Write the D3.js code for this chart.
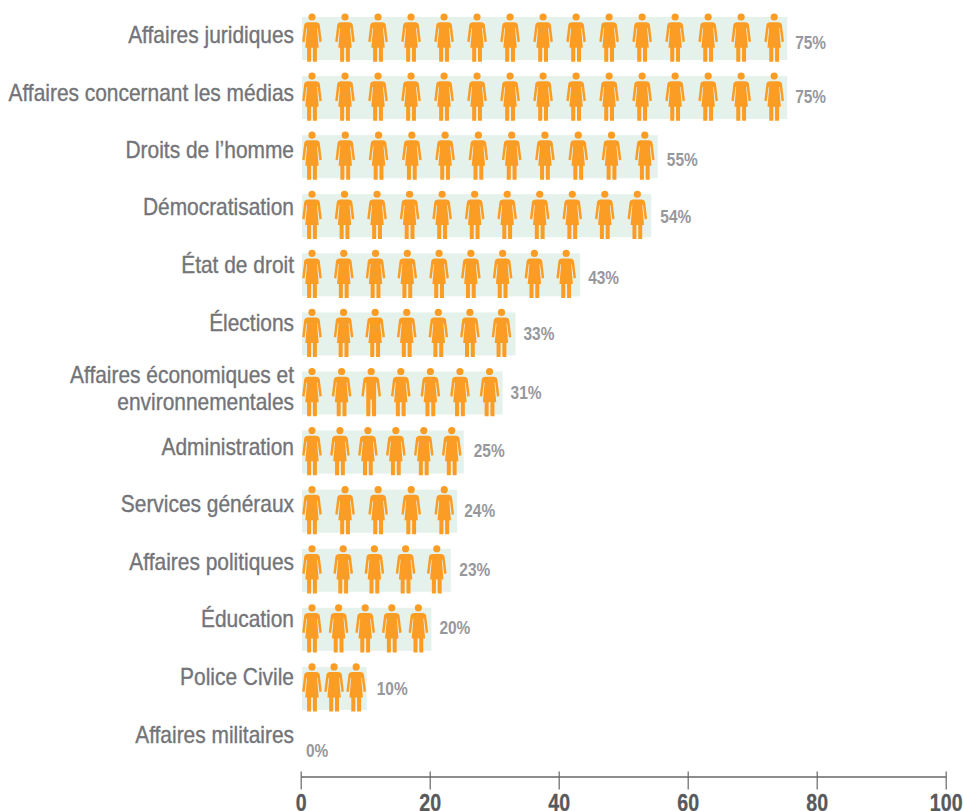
<!DOCTYPE html>
<html lang="fr">
<head>
<meta charset="utf-8">
<title>Part des femmes par domaine</title>
<script src="https://cdn.jsdelivr.net/npm/d3@7"></script>
<style>
  html, body { margin: 0; padding: 0; background: #fff; }
  svg { display: block; font-family: "Liberation Sans", Arial, sans-serif; }
</style>
</head>
<body>
<svg id="chart" width="963" height="811"></svg>
<script>
// Domains, top to bottom
const categories = [
  "Affaires juridiques", "Affaires concernant les médias", "Droits de l’homme",
  "Démocratisation", "État de droit", "Élections",
  "Affaires économiques et environnementales", "Administration", "Services généraux",
  "Affaires politiques", "Éducation", "Police Civile", "Affaires militaires"
];
const categoryLines = [
  ["Affaires juridiques"], ["Affaires concernant les médias"], ["Droits de l’homme"],
  ["Démocratisation"], ["État de droit"], ["Élections"],
  ["Affaires économiques et", "environnementales"], ["Administration"], ["Services généraux"],
  ["Affaires politiques"], ["Éducation"], ["Police Civile"], ["Affaires militaires"]
];
const percentages = [75, 75, 55, 54, 43, 33, 31, 25, 24, 23, 20, 10, 0];
const figureCounts = [15, 15, 11, 11, 9, 7, 7, 6, 5, 5, 5, 3, 0];
const axisTicks = [0, 20, 40, 60, 80, 100];

// One figure in the economic row wears trousers: row index, then figure index
const trouserFigure = [6, 2];

// Hand-placed offsets: text from each band's centre, last figure from each band's end
const categoryShift = [-2.7, -4, -6, -8, -9, -10, -4, -4.5, -6.5, -7.5, -9.5, -11, -12];
const valueShift = [4, -0.6, 3.3, 0.8, 2.2, 0, -0.5, -1.5, -0.5, -0.5, -1.5, 0.5, 3.4];
const valueGap = [8, 8, 9, 9, 8, 8, 8, 10, 7, 8.5, 8, 10, 4];
const figureInset = [13, 13, 13, 14, 14, 14, 13, 12, 13, 14, 13, 10.5, 13];

const INK_LABEL = "#737478";
const INK_VALUE = "#97989c";
const INK_AXIS = "#58595b";
const BAND_FILL = "#e5f1eb";
const FIGURE_FILL = "#fb9d24";

const svg = d3.select("#chart");

const axisX = d3.scaleLinear().domain([0, 100]).range([300.7, 945.7]);
const barX = d3.scaleLinear().domain([0, 100]).range([302, 948.9]);
const rowY = d3.scaleBand().domain(categories).range([17, 769]).paddingInner(0.272).paddingOuter(0);

// Figure outlines, drawn around the head centre at (0, 0)
const dressPath =
  "M-4,5.2 L4,5.2 Q7.2,5.2 7.8,8 L9.8,24.6 L7.4,25.2 L5.6,11 L5,11 L6.7,30.7 L4.9,30.7 L4.9,44.7 " +
  "L0.9,44.7 L0.9,30.7 L-0.9,30.7 L-0.9,44.7 L-4.9,44.7 L-4.9,30.7 L-6.7,30.7 L-5,11 L-5.6,11 " +
  "L-7.4,25.2 L-9.8,24.6 L-7.8,8 Q-7.2,5.2 -4,5.2 Z";
const trouserPath =
  "M-4,5.2 L4,5.2 Q7.2,5.2 7.8,8 L9.8,24.6 L7.4,25.2 L5.6,11 L5,11 L4.9,44.7 L0.9,44.7 L0.7,28 " +
  "L-0.7,28 L-0.9,44.7 L-4.9,44.7 L-5,11 L-5.6,11 L-7.4,25.2 L-9.8,24.6 L-7.8,8 Q-7.2,5.2 -4,5.2 Z";

const rows = svg.append("g").selectAll("g")
  .data(categories.map((name, i) => ({
    name, i,
    value: percentages[i],
    count: figureCounts[i],
    lines: categoryLines[i]
  })))
  .join("g");

// Pale band whose length carries the percentage
rows.append("rect")
  .attr("x", barX(0))
  .attr("y", d => rowY(d.name))
  .attr("width", d => barX(d.value) - barX(0))
  .attr("height", rowY.bandwidth())
  .attr("fill", BAND_FILL)
  .attr("stroke", d => d.value === 0 ? "#f4f4f4" : "none")
  .attr("stroke-width", 0.6);

// Row of pictograms spread along the band
rows.each(function (d) {
  if (!d.count) return;
  const spread = d3.scalePoint()
    .domain(d3.range(d.count))
    .range([barX(0) + 10, barX(d.value) - figureInset[d.i]]);
  const fig = d3.select(this).selectAll("g.figure")
    .data(d3.range(d.count))
    .join("g")
    .attr("class", "figure")
    .attr("transform", k => `translate(${spread(k)},${rowY(d.name)})`)
    .attr("fill", FIGURE_FILL);
  fig.append("circle").attr("r", 3.6);
  fig.append("path").attr("d", k =>
    d.i === trouserFigure[0] && k === trouserFigure[1] ? trouserPath : dressPath);
});

// Category names, squeezed to a condensed width
rows.each(function (d) {
  const cy = rowY(d.name) + rowY.bandwidth() / 2 + categoryShift[d.i];
  const lineStep = 27.5;
  d.lines.forEach((line, j) => {
    const y = cy + (j - (d.lines.length - 1) / 2) * lineStep + 7.5;
    d3.select(this).append("text")
      .attr("transform", `translate(294,${y}) scale(0.91,1)`)
      .attr("text-anchor", "end")
      .attr("font-size", 23)
      .attr("fill", INK_LABEL)
      .attr("stroke", INK_LABEL)
      .attr("stroke-width", 0.35)
      .text(line);
  });
});

// Percentage labels after each band
rows.append("text")
  .attr("transform", d => {
    const y = rowY(d.name) + rowY.bandwidth() / 2 + valueShift[d.i] + 6.5;
    return `translate(${barX(d.value) + valueGap[d.i]},${y}) scale(0.86,1)`;
  })
  .attr("font-size", 18)
  .attr("font-weight", "bold")
  .attr("fill", INK_VALUE)
  .text(d => d.value + "%");

// Percentage axis along the bottom
const axis = svg.append("g")
  .attr("transform", "translate(0,776.5)")
  .call(d3.axisBottom(axisX).tickValues(axisTicks).tickSize(13).tickSizeOuter(0));

axis.select(".domain").attr("stroke", "#666769").attr("stroke-width", 1.5);
axis.selectAll(".tick line")
  .attr("y1", -5)
  .attr("stroke", "#666769")
  .attr("stroke-width", 1.2);
axis.selectAll(".tick text")
  .attr("y", 0)
  .attr("dy", 0)
  .attr("transform", "translate(0,34.3) scale(0.8,1)")
  .attr("font-family", "\"Liberation Sans\", Arial, sans-serif")
  .attr("font-size", 24.5)
  .attr("font-weight", "bold")
  .attr("fill", INK_AXIS)
  .attr("stroke", INK_AXIS)
  .attr("stroke-width", 0.3);
</script>
</body>
</html>
